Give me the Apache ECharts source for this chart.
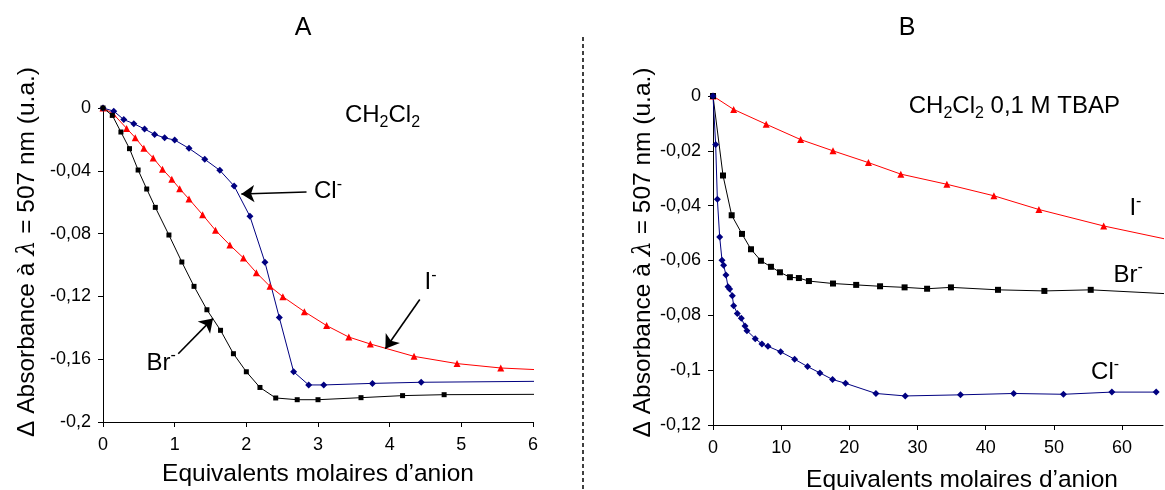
<!DOCTYPE html>
<html><head><meta charset="utf-8">
<script src="https://cdn.jsdelivr.net/npm/echarts@6/dist/echarts.min.js"></script>
<style>html,body{margin:0;padding:0;background:#fff}#c{width:1165px;height:490px}</style>
</head><body><div id="c"></div>
<script>
// ---------- Panel A : CH2Cl2 ----------
const clA = [[0,0],[0.15,-0.002],[0.29,-0.0074],[0.43,-0.010],[0.58,-0.0134],[0.72,-0.0168],[0.86,-0.019],[1.0,-0.0204],[1.2,-0.0257],[1.42,-0.0327],[1.63,-0.0397],[1.83,-0.0497],[2.05,-0.069],[2.26,-0.0983],[2.46,-0.1335],[2.66,-0.168],[2.87,-0.1764],[3.08,-0.1764],[3.76,-0.1754],[4.44,-0.1747],[6.8,-0.1738]];
const brA = [[0,0],[0.13,-0.0047],[0.25,-0.0153],[0.37,-0.0259],[0.49,-0.0395],[0.61,-0.0516],[0.73,-0.0633],[0.92,-0.0809],[1.10,-0.0981],[1.27,-0.1136],[1.45,-0.1285],[1.64,-0.1416],[1.82,-0.1565],[2.0,-0.168],[2.19,-0.178],[2.41,-0.1847],[2.71,-0.1858],[3.0,-0.1858],[3.6,-0.1845],[4.18,-0.1832],[4.76,-0.1826],[6.5,-0.1823]];
const iA = [[0,0],[0.14,-0.0036],[0.33,-0.013],[0.45,-0.0189],[0.57,-0.0257],[0.70,-0.0318],[0.83,-0.039],[0.96,-0.0454],[1.07,-0.0514],[1.20,-0.058],[1.39,-0.068],[1.57,-0.0779],[1.77,-0.0873],[1.96,-0.0955],[2.14,-0.1049],[2.33,-0.1136],[2.51,-0.1202],[2.81,-0.1297],[3.12,-0.1386],[3.43,-0.1459],[3.73,-0.1503],[4.34,-0.1582],[4.94,-0.1628],[5.55,-0.1656],[6.16,-0.1669]];
// ---------- Panel B : CH2Cl2 0,1 M TBAP ----------
const clB = [[0,0],[0.39,-0.0177],[0.64,-0.0377],[0.98,-0.0514],[1.32,-0.0599],[1.56,-0.0617],[1.9,-0.0653],[2.2,-0.0696],[2.44,-0.0704],[2.83,-0.0729],[3.03,-0.0765],[3.57,-0.0793],[4.15,-0.0811],[4.69,-0.0839],[4.98,-0.0856],[6.2,-0.0885],[7.18,-0.0905],[8.06,-0.0913],[9.92,-0.0933],[11.97,-0.096],[13.87,-0.0987],[15.68,-0.101],[17.54,-0.1034],[19.44,-0.1048],[23.9,-0.1085],[28.2,-0.1094],[36.3,-0.109],[44.1,-0.1085],[51.4,-0.1088],[58.5,-0.108],[65.0,-0.108]];
const brB = [[0,0],[1.47,-0.029],[2.74,-0.0435],[4.25,-0.0503],[5.57,-0.0559],[7.03,-0.0601],[8.5,-0.0623],[9.82,-0.0643],[11.28,-0.0661],[12.6,-0.0664],[14.07,-0.0675],[17.6,-0.0684],[21.0,-0.0689],[24.5,-0.0694],[28.1,-0.0698],[31.4,-0.0703],[34.9,-0.0698],[41.8,-0.0707],[48.6,-0.0711],[55.4,-0.0707],[68,-0.0723]];
const iB = [[0,0],[3.03,-0.0049],[7.8,-0.0103],[12.85,-0.0159],[17.6,-0.020],[22.8,-0.0243],[27.55,-0.0285],[34.3,-0.0322],[41.2,-0.0364],[47.8,-0.0414],[57.3,-0.0474],[66.8,-0.0524]];

// axis ranges / titles
const xRangeA = [0, 6, 1];
const yRangeA = [-0.2, 0, 0.04];
const xRangeB = [0, 66, 10];
const yRangeB = [-0.12, 0, 0.02];
const panelTitles = ['A', 'B'];
const xTitle = 'Equivalents molaires d\u2019anion';
const yTitle = '\u0394 Absorbance \u00e0 {l|\u03bb} = 507 nm (u.a.)';

// annotations [x, y, rich text]
const notesA = [[3.9,-0.0047,'{m|CH}{sub|2}{m|Cl}{sub|2}'],[3.14,-0.053,'{m|Cl}{sup|-}'],[4.57,-0.111,'{m|I}{sup|-}'],[0.81,-0.1624,'{m|Br}{sup|-}']];
const notesB = [[44.2,-0.0038,'{m|CH}{sub|2}{m|Cl}{sub|2}{m| 0,1 M TBAP}'],[61.96,-0.041,'{m|I}{sup|-}'],[60.9,-0.0653,'{m|Br}{sup|-}'],[57.5,-0.1007,'{m|Cl}{sup|-}']];
// arrows [[x1,y1],[x2,y2]] (head at second point)
const arrowsA = [[[2.84,-0.0535],[1.93,-0.0548]],[[4.42,-0.122],[3.94,-0.1533]],[[1.05,-0.1565],[1.535,-0.134]]];

const FF = 'Liberation Sans, Arial, sans-serif';
const rich = {
  m: {fontSize: 24, fontFamily: FF, color: '#000', lineHeight: 30},
  sup: {fontSize: 16, fontFamily: FF, color: '#000', lineHeight: 14, verticalAlign: 'top'},
  sub: {fontSize: 16, fontFamily: FF, color: '#000', lineHeight: 14, verticalAlign: 'bottom'},
  l: {fontSize: 24, fontFamily: 'DejaVu Serif, serif', fontStyle: 'italic', color: '#000'}
};
function fmt(v){ const r = Math.round(v*10000)/10000; return String(r).replace('.', ','); }

function xAxis(gi, r, gap, pad){
  return {type:'value', gridIndex: gi, min: r[0], max: r[1], interval: r[2],
    name: xTitle, nameLocation:'middle', nameGap: gap,
    nameTextStyle:{fontSize:24.5, fontFamily:FF, color:'#000', padding: pad},
    axisLine:{show:true, onZero:false, lineStyle:{color:'#000', width:1}},
    axisTick:{show:true, inside:false, length:5, lineStyle:{color:'#000'}},
    axisLabel:{fontSize:18, fontFamily:FF, color:'#000', margin:14, showMaxLabel: gi===0, formatter: fmt},
    splitLine:{show:false}};
}
function yAxis(gi, r, gap, pad){
  return {type:'value', gridIndex: gi, min: r[0], max: r[1], interval: r[2],
    name: yTitle, nameLocation:'middle', nameGap: gap, nameRotate: 90,
    nameTextStyle:{fontSize:24.5, fontFamily:FF, color:'#000', padding: pad, rich: {l: rich.l}},
    axisLine:{show:true, onZero:false, lineStyle:{color:'#000', width:1}},
    axisTick:{show:true, inside:false, length:5, lineStyle:{color:'#000'}},
    axisLabel:{fontSize:18, fontFamily:FF, color:'#000', margin:12, formatter: fmt},
    splitLine:{show:false}};
}
function line(gi, data, color, symbol, size, extra){
  return Object.assign({type:'line', xAxisIndex: gi, yAxisIndex: gi, data: data, clip: true,
    symbol: symbol, symbolSize: size, showAllSymbol: true,
    lineStyle:{color: color, width: 1}, itemStyle:{color: color}, animation:false, silent:true}, extra||{});
}
function notes(list){
  return {symbol:'rect', symbolSize: 0, silent:true,
    label:{show:true, position:'inside', rich: rich, formatter: p => p.data.t},
    data: list.map(n => ({coord:[n[0], n[1]], t: n[2]}))};
}
const arrowLines = {silent:true, symbol:['none','arrow'], symbolSize:13,
  lineStyle:{color:'#000', width:1.6, type:'solid'}, itemStyle:{color:'#000'}, label:{show:false},
  data: arrowsA.map(a => [{coord:a[0]}, {coord:a[1]}])};

const chart = echarts.init(document.getElementById('c'), null, {renderer:'canvas'});
chart.setOption({
  backgroundColor:'#fff',
  animation:false,
  grid:[{left:103, top:108, width:430, height:314, outerBoundsMode:'none', containLabel:false},
        {left:713, top:96, width:450, height:329, outerBoundsMode:'none', containLabel:false}],
  xAxis:[xAxis(0, xRangeA, 40, [0,0,0,0]), xAxis(1, xRangeB, 43, [0,0,0,48])],
  yAxis:[yAxis(0, yRangeA, 63, [0,0,0,26]), yAxis(1, yRangeB, 55, [0,0,0,16])],
  graphic:[
    {type:'text', x:303, y:16, style:{text: panelTitles[0], fontSize:25, fontFamily:FF, fill:'#000', textAlign:'center'}},
    {type:'text', x:907, y:16, style:{text: panelTitles[1], fontSize:25, fontFamily:FF, fill:'#000', textAlign:'center'}},
    {type:'line', shape:{x1:583, y1:37, x2:583, y2:490}, style:{stroke:'#000', lineWidth:1.5, lineDash:[4,3]}}
  ],
  series:[
    line(0, iA, '#ff0000', 'triangle', 7),
    line(0, clA, '#000080', 'diamond', 7),
    line(0, brA, '#000000', 'rect', 5, {markLine: arrowLines, markPoint: notes(notesA)}),
    line(1, iB, '#ff0000', 'triangle', 7),
    line(1, brB, '#000000', 'rect', 6),
    line(1, clB, '#000080', 'diamond', 7, {markPoint: notes(notesB)})
  ]
});
</script>
</body></html>
